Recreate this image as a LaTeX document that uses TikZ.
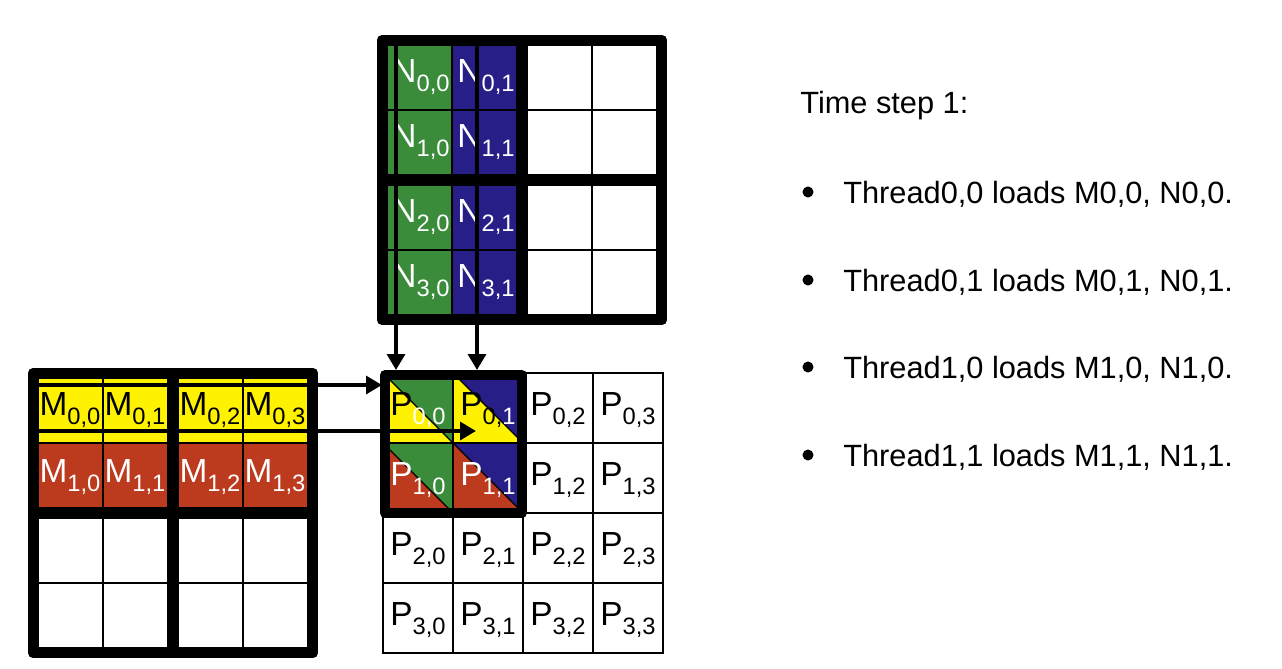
\documentclass[tikz,border=0pt]{standalone}
\usepackage{fontspec}
\setmainfont{Liberation Sans}
\usetikzlibrary{arrows.meta}

\definecolor{tilegreen}{RGB}{58,140,58}
\definecolor{tileblue}{RGB}{40,30,135}
\definecolor{tileyellow}{RGB}{255,242,0}
\definecolor{tilered}{RGB}{188,58,30}

\newcommand{\cellLabel}[2]{\fontsize{19}{19}\selectfont#1\raisebox{-5pt}{\fontsize{13.5}{13.5}\selectfont#2}}

\begin{document}
\begin{tikzpicture}[
  x=0.02cm, y=-0.02cm,
  cellgrid/.style={draw=black, line width=0.8pt},
  tile/.style={draw=black, line width=5.7pt, line join=round},
  load/.style={line width=2.3pt, -{Triangle[length=9pt,width=10pt]}},
  lbl/.style={inner sep=0pt, text=white},
  note/.style={font=\fontsize{17.5}{21}\selectfont, inner sep=0pt, anchor=base west},
  dot/.style={circle, fill=black, inner sep=0pt, minimum size=6.3pt}
]
\useasboundingbox (0,0) rectangle (1282,669);

% N tile
\fill [tilegreen] (387,45) rectangle (452,315);
\fill [tileblue] (452,45) rectangle (517,315);
\foreach \x in {387,452,527,592}
  \foreach \y in {45,110,185,250}
    \draw [cellgrid] (\x,\y) rectangle +(65,65);
\foreach \r/\y in {0/77,1/142,2/217,3/282} {
  \node [lbl] (n\r0) at (421,\y) {\cellLabel{N}{\r,0}};
  \node [lbl] (n\r1) at (486,\y) {\cellLabel{N}{\r,1}};
}
\draw [tile] (382,40) rectangle (662,320);
\draw [tile] (522,40) -- (522,320);
\draw [tile] (382,180) -- (662,180);

% M tile
\fill [tileyellow] (38,378) rectangle (308,443);
\fill [tilered] (38,443) rectangle (308,508);
\foreach \x in {38,103,178,243}
  \foreach \y in {378,443,518,583}
    \draw [cellgrid] (\x,\y) rectangle +(65,65);
\foreach \c/\x in {0/70,1/135,2/210,3/275} {
  \node [lbl, text=black] (m0\c) at (\x,410) {\cellLabel{M}{0,\c}};
  \node [lbl] (m1\c) at (\x,477) {\cellLabel{M}{1,\c}};
}
\draw [tile] (33,373) rectangle (313,653);
\draw [tile] (173,373) -- (173,653);
\draw [tile] (33,513) -- (313,513);

% P tile
\fill [tilegreen] (383,373) rectangle (453,513);
\fill [tileblue] (453,373) rectangle (523,513);
\fill [tileyellow] (383,373) -- (383,443) -- (453,443) -- cycle;
\fill [tileyellow] (453,373) -- (453,443) -- (523,443) -- cycle;
\fill [tilered] (383,443) -- (383,513) -- (453,513) -- cycle;
\fill [tilered] (453,443) -- (453,513) -- (523,513) -- cycle;
\foreach \x in {383,453,523,593}
  \foreach \y in {373,443,513,583}
    \draw [cellgrid] (\x,\y) rectangle +(70,70);
\foreach \x/\y in {383/373,453/373,383/443,453/443}
  \draw [cellgrid] (\x,\y) -- +(70,70);
\node [lbl, text=black] (p00) at (418,410) {\cellLabel{P}{\color{white}0,0}};
\node [lbl, text=black] (p01) at (488,410) {\cellLabel{P}{0,{\color{white}1}}};
\node [lbl] (p10) at (418,480) {\cellLabel{P}{1,0}};
\node [lbl] (p11) at (488,480) {\cellLabel{P}{1,1}};
\foreach \r/\y in {0/410,1/480}
  \foreach \c/\x in {2/558,3/628}
    \node [lbl, text=black] (p\r\c) at (\x,\y) {\cellLabel{P}{\r,\c}};
\foreach \r/\y in {2/550,3/620}
  \foreach \c/\x in {0/418,1/488,2/558,3/628}
    \node [lbl, text=black] (p\r\c) at (\x,\y) {\cellLabel{P}{\r,\c}};
\draw [tile] (385,375) rectangle (522,513);

% loads
\coordinate (ncol0) at (396,45);
\coordinate (ncol1) at (477,45);
\coordinate (mrow0) at (38,385);
\coordinate (mrow1) at (38,431);
\coordinate (pin0) at (396,370);
\coordinate (pin1) at (477,370);
\coordinate (pin2) at (382,385);
\coordinate (pin3) at (476,431);
\draw [load] (ncol0) -- (pin0);
\draw [load] (ncol1) -- (pin1);
\draw [load] (mrow0) -- (pin2);
\draw [load] (mrow1) -- (pin3);

% notes
\node [note] (step) at (800,113) {Time step 1:};
\node [dot] (b00) at (808,192) {};
\node [note] (t00) at (843,203) {Thread0,0 loads M0,0, N0,0.};
\node [dot] (b01) at (808,280) {};
\node [note] (t01) at (843,291) {Thread0,1 loads M0,1, N0,1.};
\node [dot] (b10) at (808,367) {};
\node [note] (t10) at (843,378) {Thread1,0 loads M1,0, N1,0.};
\node [dot] (b11) at (808,455) {};
\node [note] (t11) at (843,466) {Thread1,1 loads M1,1, N1,1.};

\end{tikzpicture}
\end{document}
